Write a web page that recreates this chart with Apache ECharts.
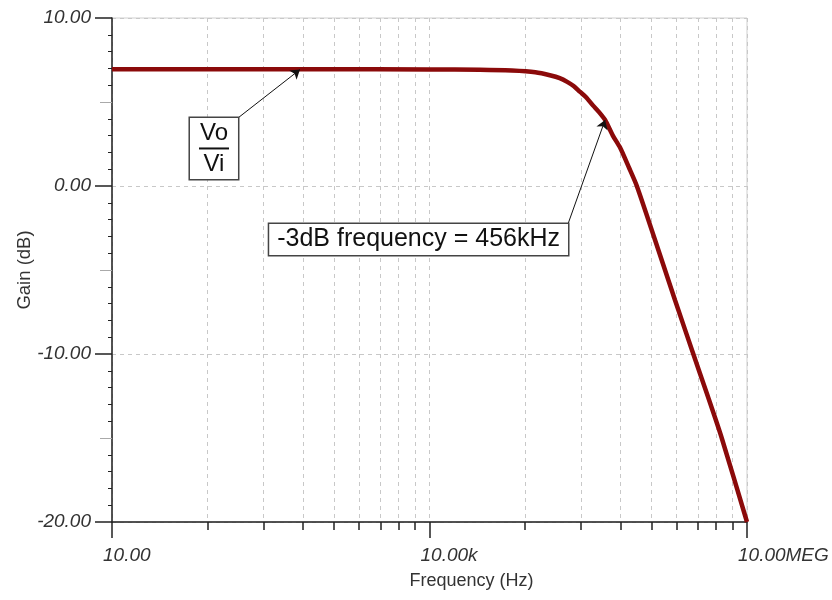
<!DOCTYPE html>
<html>
<head>
<meta charset="utf-8">
<script src="https://cdn.jsdelivr.net/npm/echarts@6/dist/echarts.min.js"></script>
<style>
  html, body { margin: 0; padding: 0; background: #fff; }
  #main { width: 832px; height: 600px; }
</style>
</head>
<body>
<div id="main"></div>
<script>
// frequency response
const freqHz = [10, 1000, 10000, 30000, 60000, 100000, 140000, 170000, 200000, 230000, 265000, 300000, 350000, 400000, 456000, 540000, 630000, 760000, 910000, 1600000, 2090000, 3110000, 4200000, 5770000, 10000000];
const gainDb = [6.95, 6.95, 6.94, 6.92, 6.87, 6.77, 6.58, 6.42, 6.2, 5.95, 5.6, 5.3, 4.8, 4.4, 3.93, 3.0, 2.3, 1.15, 0.0, -4.6, -6.8, -10.0, -12.4, -15.0, -20.0];

// axis ticks (TINA style: one decade step = x1000)
const xMajorTicks = [10, 10000, 10000000];
const xMajorLabels = ['10.00', '10.00k', '10.00MEG'];
const xMinorTicks = [80, 270, 640, 1250, 2160, 3430, 5120, 7290,
  80000, 270000, 640000, 1250000, 2160000, 3430000, 5120000, 7290000];
const yMidTicks = [5, -5, -15];

// annotations: [arrow start (box corner), arrow tip]
const voArrow = [[155, 4.05], [597, 6.93]];
const f3dbArrow = [[203600, -2.26], [456000, 3.93]];
const voText = ['Vo', 'Vi'];
const f3dbText = '-3dB frequency = 456kHz';

const FONT = 'Arial, "Liberation Sans", sans-serif';
const chart = echarts.init(document.getElementById('main'));

const logX = {
  type: 'log',
  logBase: 1000,
  min: 10,
  max: 10000000,
  position: 'bottom'
};
const gridDash = { show: true, lineStyle: { color: '#c8c8c8', type: [4, 4], width: 1 } };

const option = {
  backgroundColor: '#fff',
  animation: false,
  grid: {
    left: 112, right: 85, top: 18, bottom: 78,
    show: true, borderColor: '#cfcfcf', borderWidth: 1
  },
  xAxis: [
    Object.assign({}, logX, {
      name: 'Frequency (Hz)',
      nameLocation: 'middle',
      nameGap: 50,
      nameTextStyle: { fontFamily: FONT, fontSize: 18, color: '#333', padding: [0, 0, 0, 84] },
      axisLine: { onZero: false, lineStyle: { color: '#222', width: 1.5 } },
      axisTick: { customValues: xMajorTicks, length: 16, lineStyle: { color: '#222', width: 1.5 } },
      axisLabel: {
        customValues: xMajorTicks,
        formatter: v => xMajorLabels[xMajorTicks.findIndex(t => Math.abs(t - v) / t < 1e-6)] || '',
        align: 'left',
        padding: [0, 0, 0, -9],
        margin: 24,
        fontFamily: FONT, fontSize: 19, fontStyle: 'italic', color: '#333'
      },
      splitLine: gridDash
    }),
    Object.assign({}, logX, {
      axisLine: { show: false, onZero: false },
      axisTick: { show: true, customValues: xMinorTicks, length: 8, lineStyle: { color: '#222', width: 1.5 } },
      axisLabel: { show: false },
      splitLine: gridDash
    })
  ],
  yAxis: [
    {
      type: 'value',
      min: -20, max: 10, interval: 10,
      name: 'Gain (dB)',
      nameLocation: 'middle',
      nameGap: 78,
      nameMoveOverlap: false,
      nameTextStyle: { fontFamily: FONT, fontSize: 18.5, color: '#333' },
      axisLine: { show: true, lineStyle: { color: '#222', width: 1.5 } },
      axisTick: { show: true, length: 17, lineStyle: { color: '#222', width: 1.5 } },
      minorTick: { show: true, splitNumber: 10, length: 4, lineStyle: { color: '#222', width: 1 } },
      axisLabel: {
        formatter: v => v.toFixed(2),
        margin: 21,
        fontFamily: FONT, fontSize: 19, fontStyle: 'italic', color: '#333'
      },
      splitLine: gridDash
    },
    {
      type: 'value',
      min: -20, max: 10, interval: 10,
      position: 'left',
      axisLine: { show: false },
      axisTick: { show: true, customValues: yMidTicks, length: 12, lineStyle: { color: '#aaa', width: 1 } },
      axisLabel: { show: false },
      splitLine: { show: false }
    }
  ],
  series: [{
    type: 'line',
    xAxisIndex: 0,
    yAxisIndex: 0,
    data: freqHz.map((f, i) => [f, gainDb[i]]),
    showSymbol: false,
    smooth: 0.25,
    lineStyle: { color: '#8b0a0a', width: 4.5 },
    markLine: {
      silent: true,
      symbol: ['none', 'arrow'],
      symbolSize: 9,
      label: { show: false },
      lineStyle: { color: '#111', width: 1, type: 'solid' },
      data: [
        [{ coord: voArrow[0] }, { coord: voArrow[1] }],
        [{ coord: f3dbArrow[0] }, { coord: f3dbArrow[1] }]
      ]
    },
    markPoint: {
      silent: true,
      symbol: 'rect',
      symbolSize: 0,
      data: [
        {
          coord: voArrow[0],
          label: {
            show: true,
            position: [0, 0],
            align: 'right',
            verticalAlign: 'top',
            backgroundColor: '#fff',
            borderColor: '#444',
            borderWidth: 1.5,
            padding: [1, 9, 1, 9],
            formatter: '{a|' + voText[0] + '}\n{bar| }\n{b|' + voText[1] + '}',
            rich: {
              a: { fontFamily: FONT, fontSize: 24, lineHeight: 28, color: '#111', align: 'center' },
              bar: { fontSize: 2, width: 30, height: 2, lineHeight: 3, backgroundColor: '#111', align: 'center' },
              b: { fontFamily: FONT, fontSize: 24, lineHeight: 28, color: '#111', align: 'center' }
            }
          }
        },
        {
          coord: f3dbArrow[0],
          label: {
            show: true,
            position: [0, 0],
            align: 'right',
            verticalAlign: 'top',
            backgroundColor: '#fff',
            borderColor: '#444',
            borderWidth: 1.5,
            padding: [3, 8, 3, 8],
            formatter: f3dbText,
            fontFamily: FONT, fontSize: 25, lineHeight: 25, color: '#111'
          }
        }
      ]
    }
  }]
};

chart.setOption(option);
</script>
</body>
</html>
